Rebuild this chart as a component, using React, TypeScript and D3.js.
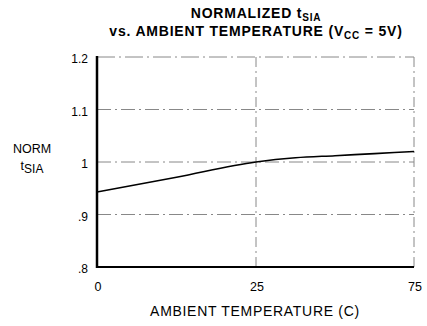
import React from "react";
import * as d3 from "d3";

const temps = [0, 12.5, 25, 37.5, 50, 62.5, 75];
const normT = [0.943, 0.971, 1.0, 1.008, 1.012, 1.016, 1.02];
const xTicks = [0, 25, 75];
const yTicks = [0.8, 0.9, 1.0, 1.1, 1.2];
const yTickLabels = [".8", ".9", "1", "1.1", "1.2"];

const W = 427, H = 326;
const L = 97, R = 414, T = 57, B = 267;

export default function App() {
  const x = d3.scaleLinear().domain([0, 25, 75]).range([L, 256, R]);
  const y = d3.scaleLinear().domain([0.8, 1.2]).range([B, T]);
  const line = d3.line<number>().x((_, i) => x(temps[i])).y((d) => y(d)).curve(d3.curveMonotoneX);
  const font = "Liberation Sans, Arial, Helvetica, sans-serif";
  const grid = "#888";
  return (
    <div style={{ position: "absolute", left: 0, top: 0 }}>
      <svg width={W} height={H} style={{ display: "block", background: "#fff" }} fontFamily={font}>
        <text x={256} y={18} textAnchor="middle" fontWeight="bold" fontSize={14} letterSpacing={0.8}>
          NORMALIZED t<tspan fontSize={10} dy={3}>SIA</tspan>
        </text>
        <text x={256} y={36} textAnchor="middle" fontWeight="bold" fontSize={14} letterSpacing={0.8}>
          vs. AMBIENT TEMPERATURE (V<tspan fontSize={10} dy={3}>CC</tspan><tspan dy={-3}> = 5V)</tspan>
        </text>
        {yTicks.slice(1, 4).map((t) => (
          <line key={t} x1={L} x2={R} y1={y(t)} y2={y(t)} stroke={grid} strokeWidth={1} strokeDasharray="14,4,2,4" />
        ))}
        <line x1={L} x2={R} y1={y(1.2)} y2={y(1.2)} stroke={grid} strokeWidth={1} strokeDasharray="18,4,2,4" />
        <line x1={x(25)} x2={x(25)} y1={T} y2={B} stroke={grid} strokeWidth={1} strokeDasharray="10,4,2,4" />
        <line x1={R} x2={R} y1={T} y2={B} stroke={grid} strokeWidth={1} strokeDasharray="10,4,2,4" />
        <path d={line(normT) || ""} fill="none" stroke="#000" strokeWidth={1.6} />
        <line x1={L} x2={L} y1={T - 1} y2={B + 1} stroke="#000" strokeWidth={2.5} />
        <line x1={L} x2={R} y1={B} y2={B} stroke="#000" strokeWidth={2} />
        {yTicks.map((t, i) => (
          <text key={t} x={88} y={y(t) + 6} textAnchor="end" fontSize={12}>
            {yTickLabels[i]}
          </text>
        ))}
        {xTicks.map((t) => (
          <text key={t} x={x(t) + 1} y={291} textAnchor="middle" fontSize={12.5}>
            {t}
          </text>
        ))}
        <text x={32} y={153} textAnchor="middle" fontSize={12.5}>NORM</text>
        <text x={32} y={170} textAnchor="middle" fontSize={12.5}>
          t<tspan fontSize={12} dy={3}>SIA</tspan>
        </text>
        <text x={255} y={316} textAnchor="middle" fontSize={14} letterSpacing={0.7}>AMBIENT TEMPERATURE (C)</text>
      </svg>
    </div>
  );
}
